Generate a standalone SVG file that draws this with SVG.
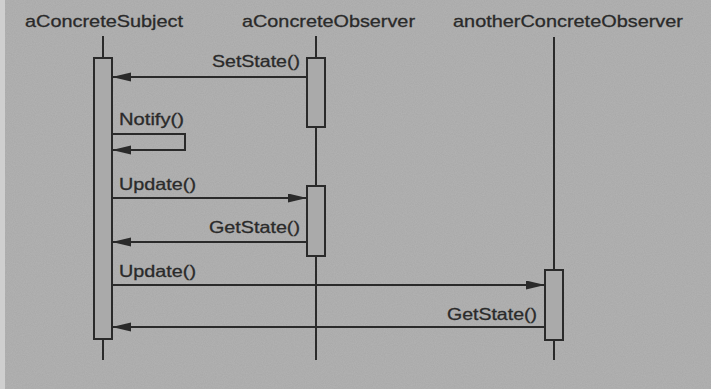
<svg xmlns="http://www.w3.org/2000/svg" width="711" height="389" viewBox="0 0 711 389">
<defs>
<marker id="ah" markerUnits="userSpaceOnUse" markerWidth="20" markerHeight="10" refX="19" refY="4.5" orient="auto">
<path d="M0,0 L19,4.5 L0,9 z" fill="#2a2a2a"/>
</marker>
<filter id="noise" x="0" y="0" width="100%" height="100%">
<feTurbulence type="fractalNoise" baseFrequency="0.9" numOctaves="2" seed="3" result="n"/>
<feColorMatrix type="matrix" values="0 0 0 0 0.66  0 0 0 0 0.66  0 0 0 0 0.66  0 0 0 0.25 0"/>
</filter>
</defs>
<style>
.bg{fill:#a8a8a8}
.life{stroke:#2a2a2a;stroke-width:2;fill:none}
.act{fill:#aaaaaa;stroke:#2a2a2a;stroke-width:2}
.msg{stroke:#2a2a2a;stroke-width:2;fill:none}
.head{font-family:"Liberation Sans",Arial,sans-serif;font-size:17px;fill:#2a2a2a;stroke:#2a2a2a;stroke-width:0.3}
.lbl{font-family:"Liberation Sans",Arial,sans-serif;font-size:16.5px;fill:#2a2a2a;stroke:#2a2a2a;stroke-width:0.3}
</style>
<rect class="bg" x="0" y="0" width="711" height="389"/>
<rect x="0" y="0" width="711" height="389" filter="url(#noise)"/>
<rect x="0" y="0" width="5" height="389" fill="#cfcfcf"/>

<g id="aConcreteSubject">
<text class="head" x="25" y="27" textLength="158" lengthAdjust="spacingAndGlyphs">aConcreteSubject</text>
<line class="life" x1="103" y1="36" x2="103" y2="360"/>
<rect class="act" x="94" y="58" width="18" height="281"/>
</g>

<g id="aConcreteObserver">
<text class="head" x="242" y="27" textLength="173" lengthAdjust="spacingAndGlyphs">aConcreteObserver</text>
<line class="life" x1="316" y1="36" x2="316" y2="360"/>
<rect class="act" x="307" y="58" width="18" height="69"/>
<rect class="act" x="307" y="186" width="18" height="70"/>
</g>

<g id="anotherConcreteObserver">
<text class="head" x="453" y="27" textLength="230" lengthAdjust="spacingAndGlyphs">anotherConcreteObserver</text>
<line class="life" x1="554" y1="37" x2="554" y2="360"/>
<rect class="act" x="545" y="270" width="18" height="70"/>
</g>

<g id="connectors">
<line class="msg" x1="307" y1="77" x2="112" y2="77" marker-end="url(#ah)"/>
<text class="lbl" x="212" y="67" textLength="88" lengthAdjust="spacingAndGlyphs">SetState()</text>

<polyline class="msg" points="112,134 185,134 185,150 112,150" marker-end="url(#ah)"/>
<text class="lbl" x="119" y="125" textLength="65" lengthAdjust="spacingAndGlyphs">Notify()</text>

<line class="msg" x1="112" y1="198" x2="307" y2="198" marker-end="url(#ah)"/>
<text class="lbl" x="119" y="190" textLength="77" lengthAdjust="spacingAndGlyphs">Update()</text>

<line class="msg" x1="307" y1="242" x2="112" y2="242" marker-end="url(#ah)"/>
<text class="lbl" x="209" y="233" textLength="91" lengthAdjust="spacingAndGlyphs">GetState()</text>

<line class="msg" x1="112" y1="285" x2="545" y2="285" marker-end="url(#ah)"/>
<text class="lbl" x="119" y="277" textLength="77" lengthAdjust="spacingAndGlyphs">Update()</text>

<line class="msg" x1="545" y1="327" x2="112" y2="327" marker-end="url(#ah)"/>
<text class="lbl" x="447" y="320" textLength="90" lengthAdjust="spacingAndGlyphs">GetState()</text>
</g>
</svg>
